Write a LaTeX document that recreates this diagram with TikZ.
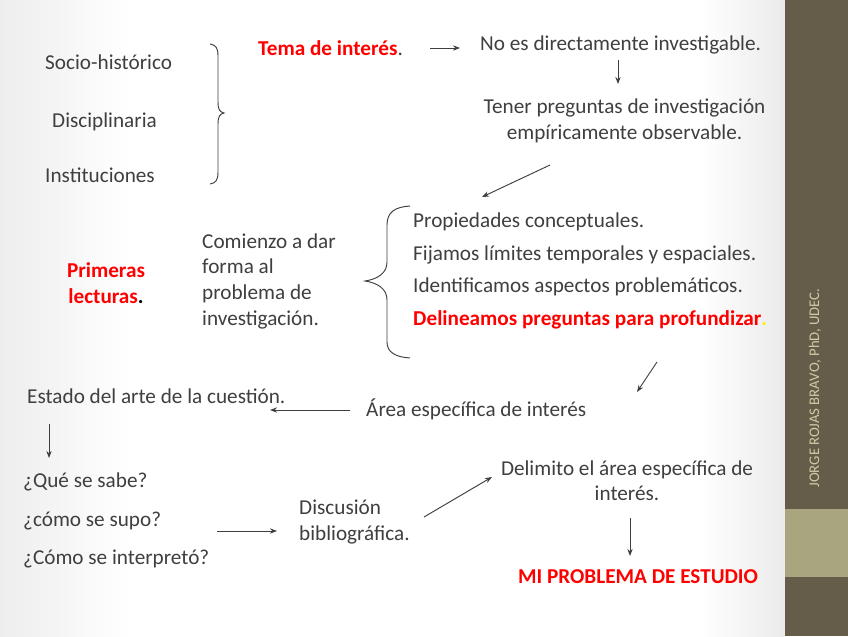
\documentclass[tikz,border=0pt]{standalone}
\usepackage{fontspec}
\setmainfont{Carlito}
\usetikzlibrary{arrows.meta}
\definecolor{txt}{HTML}{3F3F3F}
\definecolor{redt}{HTML}{FF0000}
\definecolor{side}{HTML}{655D49}
\definecolor{band}{HTML}{A9A57F}
\definecolor{sidetxt}{HTML}{CFCBA6}
\begin{document}
\begin{tikzpicture}[x=0.849pt,y=-0.849pt,
  t/.style={text=txt,font=\fontsize{18}{21.5}\selectfont,inner sep=0pt},
  tl/.style={t,anchor=west},
  tr/.style={text=redt,font=\fontsize{18}{21.5}\selectfont\bfseries,inner sep=0pt},
  arr/.style={draw=txt,line width=0.8pt,-{Stealth[length=6pt,width=4.5pt]}},
  brace/.style={draw=txt,line width=0.8pt}]
\useasboundingbox (0,0) rectangle (848,636);
\fill[white] (0,0) rectangle (848,636);
\shade[left color=gray!14,right color=white] (0,0) rectangle (130,636);
\shade[left color=white,right color=gray!16] (700,0) rectangle (785,636);
\fill[side] (785,0) rectangle (848,636);
\fill[band] (785,509) rectangle (848,577);
\node[rotate=90,text=sidetxt,font=\fontsize{12.5}{14}\selectfont,inner sep=0pt] (auth) at (815,388) {JORGE ROJAS BRAVO, PhD, UDEC.};

% top-left block
\node[tl] (soc) at (45,62) {Socio-histórico};
\node[tl] (dis) at (52,122) {Disciplinaria};
\node[tl] (ins) at (45,175) {Instituciones};
\draw[brace] (210,44) .. controls (216,45) and (218,48) .. (218,56) -- (218,102) .. controls (218,110) and (220,112) .. (224,113) .. controls (220,114) and (218,116) .. (218,124) -- (218,172) .. controls (218,180) and (216,183) .. (210,184);

\node[anchor=west,inner sep=0pt] (tema) at (258,48) {\textcolor{redt}{\fontsize{18}{21.5}\selectfont\bfseries Tema de interés}\textcolor{txt}{\fontsize{18}{21.5}\selectfont .}};
\coordinate (a1s) at (430,48);
\coordinate (a1e) at (460,48);
\draw[arr] (a1s) -- (a1e);
\node[tl] (noes) at (480,45) {No es directamente investigable.};
\coordinate (a2s) at (618,60);
\coordinate (a2e) at (618,84);
\draw[arr] (a2s) -- (a2e);
\node[t,align=center] (tener) at (624.5,121) {Tener preguntas de investigación\\empíricamente observable.};
\coordinate (a3s) at (550,165);
\coordinate (a3e) at (482,197);
\draw[arr] (a3s) -- (a3e);

% middle block
\node[align=center,inner sep=0pt,font=\fontsize{18}{21.5}\selectfont\bfseries] (prim) at (106,283) {\textcolor{redt}{Primeras}\\\textcolor{redt}{lecturas}\textcolor{black}{.}};
\node[t,align=left,anchor=west,font=\fontsize{18}{21.8}\selectfont] (com) at (202,281) {Comienzo a dar\\forma al\\problema de\\investigación.};
\draw[brace] (410,206) .. controls (395,207) and (387,212) .. (387,225) -- (387,262) .. controls (387,273) and (378,279) .. (365,281) .. controls (378,283) and (387,289) .. (387,300) -- (387,342) .. controls (387,352) and (395,357) .. (410,358);
\node[tl] (p1) at (413,222) {Propiedades conceptuales.};
\node[tl] (p2) at (413,255) {Fijamos límites temporales y espaciales.};
\node[tl] (p3) at (413,287) {Identificamos aspectos problemáticos.};
\node[anchor=west,inner sep=0pt] (p4) at (413,320) {\textcolor{redt}{\fontsize{18}{21.5}\selectfont\bfseries Delineamos preguntas para profundizar}\textcolor{yellow}{\fontsize{18}{21.5}\selectfont\bfseries .}};
\coordinate (a4s) at (657,362);
\coordinate (a4e) at (637,392);
\draw[arr] (a4s) -- (a4e);

% lower block
\node[tl] (area) at (366,409) {Área específica de interés};
\coordinate (a5s) at (350,410);
\coordinate (a5e) at (270,410);
\draw[arr] (a5s) -- (a5e);
\node[tl] (estado) at (27,396) {Estado del arte de la cuestión.};
\coordinate (a6s) at (49,424);
\coordinate (a6e) at (49,458);
\draw[arr] (a6s) -- (a6e);
\node[tl] (q1) at (23,482) {¿Qué se sabe?};
\node[tl] (q2) at (23,521) {¿cómo se supo?};
\node[tl] (q3) at (23,559) {¿Cómo se interpretó?};
\coordinate (a7s) at (217,531);
\coordinate (a7e) at (277,531);
\draw[arr] (a7s) -- (a7e);
\node[t,align=left,anchor=west] (disc) at (299,522) {Discusión\\bibliográfica.};
\coordinate (a8s) at (424,517);
\coordinate (a8e) at (492,477);
\draw[arr] (a8s) -- (a8e);
\node[t,align=center] (delim) at (627,481) {Delimito el área específica de\\interés.};
\coordinate (a9s) at (630,518);
\coordinate (a9e) at (630,556);
\draw[arr] (a9s) -- (a9e);
\node[tr] (mi) at (638,577) {MI PROBLEMA DE ESTUDIO};
\end{tikzpicture}
\end{document}
